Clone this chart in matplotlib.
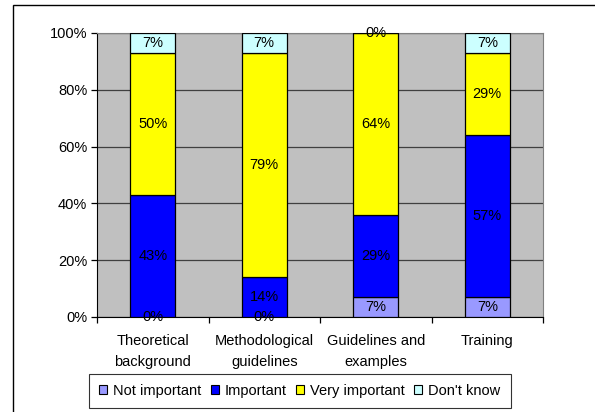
import matplotlib
matplotlib.use("Agg")
import matplotlib.pyplot as plt
from matplotlib.patches import Rectangle, Patch
import numpy as np

categories = ["Theoretical\nbackground", "Methodological\nguidelines", "Guidelines and\nexamples", "Training"]
series_names = ["Not important", "Important", "Very important", "Don't know"]
not_important = [0, 0, 7, 7]
important = [43, 14, 29, 57]
very_important = [50, 79, 64, 29]
dont_know = [7, 7, 0, 7]
colors = ["#9999FF", "#0000FF", "#FFFF00", "#CCFFFF"]
yticks = [0, 20, 40, 60, 80, 100]

plt.rcParams['font.family'] = ['Liberation Sans', 'DejaVu Sans']
FS = 10.5

W, H = 595, 412
fig = plt.figure(figsize=(W / 100, H / 100), dpi=100)
fig.patch.set_facecolor("white")

# outer chart frame
fig.patches.append(Rectangle((13 / W, -0.1), 1.2, (H - 5) / H + 0.1, transform=fig.transFigure,
                             fill=False, edgecolor="black", linewidth=1.0))

ax = fig.add_axes([97 / W, (H - 317) / H, (543 - 97) / W, (317 - 33) / H])
ax.set_facecolor("#C0C0C0")

x = np.arange(len(categories))
data = [not_important, important, very_important, dont_know]
bottom = np.zeros(len(categories))
for vals, c in zip(data, colors):
    vals = np.array(vals, dtype=float)
    ax.bar(x, vals, 0.4, bottom=bottom, color=c, edgecolor="black", linewidth=0.9, zorder=3)
    for xi, b, v in zip(x, bottom, vals):
        ax.text(xi, b + v / 2, f"{int(v)}%", ha="center", va="center", fontsize=FS, zorder=4)
    bottom += vals

ax.set_xlim(-0.5, len(categories) - 0.5)
ax.set_ylim(0, 100)
ax.set_yticks(yticks)
ax.set_yticklabels([f"{t}%" for t in yticks], fontsize=FS)
ax.yaxis.grid(True, color="#404040", linewidth=0.9, zorder=1)
ax.set_axisbelow(True)

ax.set_xticks(x)
ax.set_xticklabels(categories, fontsize=FS, linespacing=1.7)
ax.tick_params(axis="x", length=0, pad=12)
ax.set_xticks(np.arange(-0.5, len(categories)), minor=True)
ax.tick_params(axis="x", which="minor", length=4, direction="out", width=0.9)
ax.tick_params(axis="y", length=4, direction="out", width=0.9, pad=3)

for s in ["top", "right"]:
    ax.spines[s].set_color("#808080")
ax.spines["left"].set_color("black")
ax.spines["bottom"].set_color("black")

handles = [Patch(facecolor=c, edgecolor="black", linewidth=0.8) for c in colors]
leg = fig.legend(handles, series_names, loc="center", bbox_to_anchor=(300 / W, (H - 391) / H),
                 ncol=4, fontsize=FS, frameon=True, fancybox=False, edgecolor="black",
                 handlelength=0.55, handleheight=0.55, handletextpad=0.4, columnspacing=0.65,
                 borderpad=0.7, borderaxespad=0)
leg.get_frame().set_linewidth(0.8)

fig.savefig("out.png", dpi=100, facecolor="white")
